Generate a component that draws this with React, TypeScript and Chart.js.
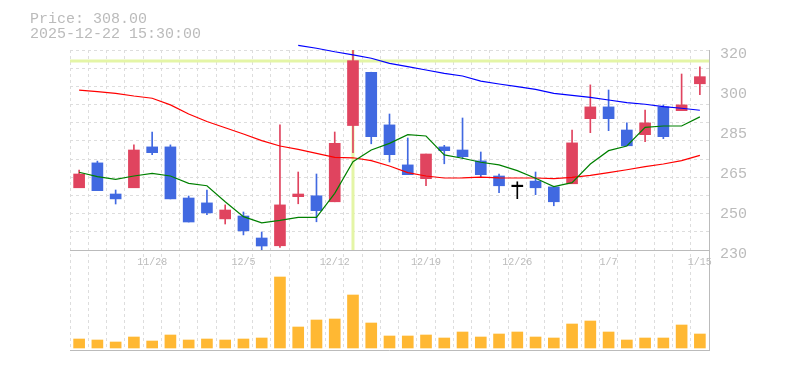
import React, { useEffect, useRef } from "react";
import { Chart, registerables } from "chart.js";

Chart.register(...registerables);

// ---- Data ----
const dates = [
  "11/21", "11/25", "11/26", "11/27", "11/28", "12/1", "12/2", "12/3", "12/4", "12/5",
  "12/8", "12/9", "12/10", "12/11", "12/12", "12/15", "12/16", "12/17", "12/18", "12/19",
  "12/22", "12/23", "12/24", "12/25", "12/26", "12/29", "12/30", "1/5", "1/6", "1/7",
  "1/8", "1/9", "1/13", "1/14", "1/15",
];
const shownDates = ["11/28", "12/5", "12/12", "12/19", "12/26", "1/7", "1/15"];

const openP = [
  258.0, 269.2, 255.2, 258.0, 276.4, 276.4, 253.4, 251.2, 244.0, 245.3,
  235.4, 231.9, 254.0, 254.4, 251.7, 286.0, 310.0, 286.3, 268.3, 262.1,
  276.4, 275.0, 270.1, 263.3, 258.5, 261.0, 258.4, 259.8, 289.1, 294.4,
  284.0, 281.9, 294.4, 292.7, 304.8,
];
const closeP = [
  264.2, 256.7, 253.0, 275.0, 273.8, 253.0, 242.6, 246.7, 248.0, 238.6,
  231.8, 250.3, 255.2, 247.7, 278.0, 315.2, 281.0, 272.9, 263.9, 273.2,
  274.7, 272.0, 263.9, 258.9, 258.5, 258.0, 251.7, 278.2, 294.4, 289.1,
  276.9, 287.2, 281.0, 295.3, 308.0,
];
const highP = [
  266.0, 270.0, 257.0, 277.3, 283.1, 277.3, 254.3, 257.0, 250.3, 247.1,
  238.1, 286.3, 265.1, 264.2, 283.1, 320.0, 310.0, 291.2, 280.4, 273.2,
  277.1, 289.4, 274.1, 264.2, 260.7, 265.1, 258.4, 284.0, 304.3, 302.0,
  287.2, 293.0, 295.3, 309.2, 312.4,
];
const lowP = [
  258.0, 256.7, 250.7, 258.0, 272.9, 253.0, 242.6, 245.9, 241.7, 236.8,
  230.0, 231.2, 250.8, 242.7, 251.7, 273.8, 277.8, 269.6, 263.9, 258.9,
  268.8, 271.1, 263.0, 255.8, 253.1, 254.9, 249.9, 259.8, 282.8, 283.7,
  276.9, 278.7, 280.1, 292.7, 299.9,
];
const volume = [
  9000, 8000, 6000, 11000, 7000, 13000, 8000, 9000, 8000, 9000,
  10000, 71000, 21000, 28000, 29000, 53000, 25000, 12000, 12000, 13000,
  10000, 16000, 11000, 14000, 16000, 11000, 10000, 24000, 27000, 16000,
  8000, 10000, 10000, 23000, 14000,
];
const ma5 = [
  265.0, 263.0, 261.8, 263.3, 264.5, 263.3, 260.0, 258.9, 251.7, 245.0,
  242.2, 243.3, 244.7, 244.7, 255.5, 269.7, 275.0, 278.0, 281.9, 281.3,
  272.8, 271.3, 269.5, 268.3, 265.7, 262.3, 258.5, 260.3, 268.7, 274.7,
  276.8, 285.2, 285.8, 285.8, 289.9,
];
const ma25 = [
  301.9, 301.3, 300.5, 299.3, 298.3, 295.3, 291.2, 287.8, 285.0, 282.2,
  279.2, 276.8, 275.3, 273.5, 271.7, 271.5, 270.2, 267.8, 264.8, 263.3,
  262.4, 262.5, 262.8, 262.5, 262.4, 262.4, 262.1, 262.7, 263.6, 264.8,
  266.1, 267.5, 268.7, 270.2, 272.6,
];
const ma75 = [
  null, null, null, null, null, null, null, null, null, null,
  null, null, 322.1, 320.8, 319.2, 317.8, 316.3, 314.0, 312.5, 311.0,
  309.5, 308.3, 306.0, 304.7, 303.5, 302.3, 300.5, 299.6, 298.7, 297.5,
  296.3, 295.6, 294.5, 293.8, 292.9,
];
const yTickValues = [230, 248, 266, 284, 302, 320];
const yTickLabels = ["230", "250", "265", "285", "300", "320"];
const crossIndex = 15;
const crossPrice = 315;
const priceText = "Price: 308.00";
const dateText = "2025-12-22 15:30:00";

// ---- Styling constants ----
const FONT = "'Liberation Mono', 'Courier New', monospace";
const UP = "#e0445f";
const DOWN = "#4169e1";
const EVEN = "#000000";
const VOL = "#ffb833";
const GRID = "#dddddd";
const AXIS = "#bbbbbb";
const TEXT = "#bbbbbb";
const CROSS = "#e4f5a6";

const priceMin = 185;
const priceMax = 320;
const gridCount = 11;
const volMin = -2000;
const volMax = 298000;

const candleColors = openP.map((o, i) =>
  closeP[i] > o ? UP : closeP[i] < o ? DOWN : EVEN
);
const gridValues: number[] = [];
for (let k = 1; k <= gridCount; k++) {
  gridValues.push(yTickValues[0] + ((yTickValues[yTickValues.length - 1] - yTickValues[0]) * k) / gridCount);
}

const crosshairPlugin = {
  id: "crosshair",
  beforeDatasetsDraw(chart: any) {
    const { ctx, chartArea, scales } = chart;
    const x = scales.x.getPixelForValue(crossIndex);
    const y = scales.y.getPixelForValue(crossPrice);
    const top = scales.y.getPixelForValue(yTickValues[yTickValues.length - 1]);
    const bottom = scales.y.getPixelForValue(yTickValues[0]);
    ctx.save();
    ctx.strokeStyle = CROSS;
    ctx.lineWidth = 3;
    ctx.beginPath();
    ctx.moveTo(x, top);
    ctx.lineTo(x, bottom);
    ctx.moveTo(chartArea.left, y);
    ctx.lineTo(chartArea.right, y);
    ctx.stroke();
    ctx.restore();
  },
};

export default function App() {
  const ref = useRef<HTMLCanvasElement | null>(null);

  useEffect(() => {
    if (!ref.current) return;
    const chart = new Chart(ref.current, {
      type: "bar",
      data: {
        labels: dates,
        datasets: [
          {
            type: "line",
            label: "MA5",
            data: ma5,
            borderColor: "#008000",
            borderWidth: 1.2,
            pointRadius: 0,
            tension: 0,
            yAxisID: "y",
            order: 1,
          } as any,
          {
            type: "line",
            label: "MA25",
            data: ma25,
            borderColor: "#ff0000",
            borderWidth: 1.2,
            pointRadius: 0,
            tension: 0,
            yAxisID: "y",
            order: 1,
          } as any,
          {
            type: "line",
            label: "MA75",
            data: ma75,
            borderColor: "#0000ff",
            borderWidth: 1.2,
            pointRadius: 0,
            tension: 0,
            yAxisID: "y",
            order: 1,
            clip: false,
          } as any,
          {
            type: "bar",
            label: "body",
            data: openP.map((o, i) => [o, closeP[i]]),
            backgroundColor: candleColors,
            barThickness: 11,
            minBarLength: 1.5,
            grouped: false,
            yAxisID: "y",
            order: 2,
          } as any,
          {
            type: "bar",
            label: "wick",
            data: lowP.map((l, i) => [l, highP[i]]),
            backgroundColor: candleColors,
            barThickness: 1,
            grouped: false,
            yAxisID: "y",
            order: 3,
          } as any,
          {
            type: "bar",
            label: "volume",
            data: volume,
            backgroundColor: VOL,
            barThickness: 11,
            grouped: false,
            yAxisID: "yV",
            order: 4,
          } as any,
        ],
      },
      options: {
        responsive: false,
        animation: false,
        events: [],
        layout: { padding: { left: 70, top: 50, right: 0, bottom: 20 } },
        plugins: {
          legend: { display: false },
          tooltip: { enabled: false },
          title: { display: false },
        },
        scales: {
          x: {
            type: "category",
            offset: true,
            position: { y: yTickValues[0] } as any,
            grid: { offset: true, color: GRID, drawTicks: false, lineWidth: 1 },
            border: { display: true, color: AXIS, dash: [3, 3], z: 1 } as any,
            ticks: {
              autoSkip: false,
              maxRotation: 0,
              minRotation: 0,
              padding: 6,
              color: TEXT,
              font: { family: FONT, size: 10 },
              callback: (_v: any, i: number) => (shownDates.includes(dates[i]) ? dates[i] : ""),
            },
          },
          y: {
            type: "linear",
            position: "right",
            min: priceMin,
            max: priceMax,
            afterBuildTicks: (s: any) => {
              s.ticks = gridValues.map((v) => ({ value: v }));
            },
            afterFit: (s: any) => {
              s.width = 0;
            },
            ticks: { display: false },
            grid: { color: GRID, drawTicks: false },
            border: { display: false, dash: [3, 3] } as any,
          },
          yL: {
            type: "linear",
            position: "right",
            min: priceMin,
            max: priceMax,
            afterBuildTicks: (s: any) => {
              s.ticks = yTickValues.map((v) => ({ value: v }));
            },
            afterFit: (s: any) => {
              s.width = 76;
            },
            ticks: {
              autoSkip: false,
              padding: 11,
              labelOffset: 4,
              color: TEXT,
              font: { family: FONT, size: 15 },
              callback: (_v: any, i: number) => yTickLabels[i],
            },
            grid: { display: false, drawTicks: false },
            border: { display: true, color: AXIS, z: 1 } as any,
          },
          yV: {
            type: "linear",
            position: "left",
            min: volMin,
            max: volMax,
            afterBuildTicks: (s: any) => {
              s.ticks = [{ value: volMin }];
            },
            afterFit: (s: any) => {
              s.width = 0;
            },
            ticks: { display: false },
            grid: { color: AXIS, drawTicks: false },
            border: { display: false },
          },
        },
      } as any,
      plugins: [crosshairPlugin],
    });
    return () => chart.destroy();
  }, []);

  return (
    <div
      style={{
        position: "fixed",
        left: 0,
        top: 0,
        width: 785,
        height: 370,
        background: "#ffffff",
      }}
    >
      <canvas ref={ref} width={785} height={370} style={{ width: 785, height: 370, display: "block" }} />
      <div
        style={{
          position: "absolute",
          left: 30,
          top: 12,
          fontFamily: FONT,
          fontSize: 15,
          lineHeight: "15px",
          color: TEXT,
          whiteSpace: "pre",
        }}
      >
        <div>{priceText}</div>
        <div>{dateText}</div>
      </div>
    </div>
  );
}
